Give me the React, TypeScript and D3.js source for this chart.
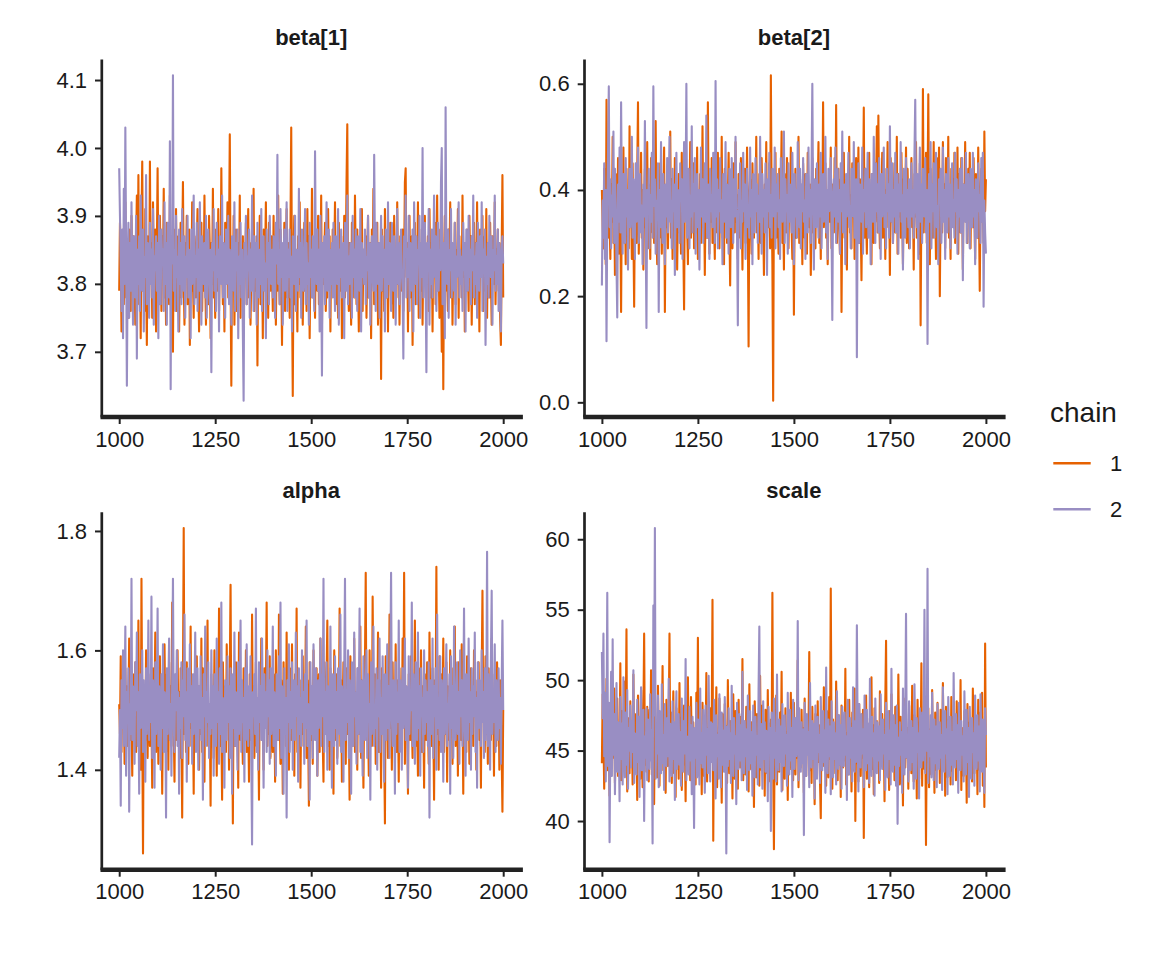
import { useEffect, useRef } from "react"
import * as d3 from "d3"

// post-warmup draws, read every 2nd iteration from 1000 to 2000
const iterStart = 1000
const iterEnd = 2000
const iterStep = 2

const beta1Chain1 = [
  3.79, 3.89, 3.84, 3.73, 3.81, 3.86, 3.77, 3.83, 3.92, 3.78, 3.85, 3.80, 3.75, 3.88, 3.82, 3.76, 3.90, 3.84, 3.79, 3.87,
  3.81, 3.74, 3.86, 3.93, 3.80, 3.96, 3.77, 3.84, 3.72, 3.89, 3.98, 3.79, 3.85, 3.76, 3.91, 3.82, 3.71, 3.87, 3.83, 3.78,
  3.98, 3.80, 3.86, 3.75, 3.92, 3.84, 3.79, 3.88, 3.73, 3.85, 3.97, 3.81, 3.77, 3.90, 3.83, 3.76, 3.87, 3.82, 3.94, 3.78,
  3.84, 3.74, 3.89, 3.81, 3.86, 3.77, 3.93, 3.80, 3.85, 3.72, 3.70, 3.88, 3.83, 3.79, 3.91, 3.76, 3.84, 3.87, 3.73, 3.82,
  3.89, 3.78, 3.85, 3.95, 3.80, 3.74, 3.86, 3.82, 3.90, 3.77, 3.83, 3.88, 3.71, 3.84, 3.79, 3.92, 3.81, 3.75, 3.87, 3.83,
  3.78, 3.86, 3.91, 3.80, 3.73, 3.85, 3.82, 3.89, 3.76, 3.84, 3.79, 3.93, 3.81, 3.74, 3.87, 3.83, 3.77, 3.90, 3.85, 3.72,
  3.86, 3.80, 3.94, 3.78, 3.84, 3.75, 3.88, 3.82, 3.79, 3.91, 3.76, 3.85, 3.81, 3.97, 3.83, 3.77, 3.86, 3.73, 3.89, 3.80,
  3.84, 3.92, 3.78, 3.87, 4.02, 3.81, 3.65, 3.85, 3.79, 3.90, 3.74, 3.83, 3.88, 3.76, 3.82, 3.86, 3.80, 3.93, 3.75, 3.84,
  3.79, 3.87, 3.73, 3.85, 3.81, 3.89, 3.77, 3.83, 3.91, 3.78, 3.86, 3.74, 3.82, 3.88, 3.80, 3.94, 3.76, 3.84, 3.79, 3.87,
  3.68, 3.85, 3.81, 3.90, 3.77, 3.83, 3.86, 3.72, 3.88, 3.80, 3.84, 3.92, 3.78, 3.85, 3.75, 3.89, 3.82, 3.79, 3.87, 3.83,
  3.76, 3.90, 3.81, 3.86, 3.74, 3.84, 3.79, 3.93, 3.82, 3.77, 3.88, 3.83, 3.71, 3.85, 3.80, 3.89, 3.76, 3.84, 3.91, 3.78,
  3.86, 3.81, 3.75, 3.88, 4.03, 3.79, 3.635, 3.84, 3.90, 3.77, 3.85, 3.82, 3.73, 3.87, 3.80, 3.92, 3.78, 3.84, 3.86, 3.74,
  3.83, 3.89, 3.79, 3.85, 3.76, 3.91, 3.81, 3.87, 3.72, 3.84, 3.80, 3.94, 3.78, 3.86, 3.82, 3.75, 3.88, 3.83, 3.79, 3.90,
  3.77, 3.85, 3.81, 3.93, 3.74, 3.86, 3.80, 3.84, 3.89, 3.76, 3.83, 3.78, 3.91, 3.82, 3.87, 3.73, 3.85, 3.80, 3.88, 3.79,
  3.84, 3.92, 3.77, 3.86, 3.81, 3.75, 3.89, 3.83, 3.79, 3.87, 3.72, 3.85, 3.82, 3.90, 3.78, 3.84, 3.95, 4.035, 3.80, 3.76,
  3.86, 3.82, 3.74, 3.89, 3.80, 3.85, 3.78, 3.93, 3.83, 3.77, 3.88, 3.81, 3.73, 3.86, 3.84, 3.79, 3.91, 3.76, 3.85, 3.82,
  3.80, 3.87, 3.75, 3.84, 3.90, 3.78, 3.83, 3.86, 3.72, 3.88, 3.81, 3.94, 3.77, 3.85, 3.79, 3.82, 3.89, 3.74, 3.86, 3.80,
  3.84, 3.66, 3.88, 3.79, 3.85, 3.76, 3.91, 3.82, 3.78, 3.87, 3.73, 3.84, 3.80, 3.89, 3.77, 3.86, 3.83, 3.75, 3.90, 3.81,
  3.85, 3.78, 3.92, 3.80, 3.84, 3.74, 3.87, 3.82, 3.79, 3.88, 3.76, 3.83, 3.95, 3.97, 3.81, 3.86, 3.73, 3.84, 3.90, 3.78,
  3.83, 3.87, 3.71, 3.85, 3.80, 3.89, 3.77, 3.84, 3.82, 3.92, 3.75, 3.86, 3.81, 3.79, 3.88, 3.74, 3.85, 3.83, 3.90, 3.78,
  3.84, 3.80, 3.87, 3.76, 3.91, 3.82, 3.78, 3.86, 3.73, 3.85, 3.81, 3.89, 3.77, 3.84, 3.93, 3.79, 3.83, 3.75, 3.88, 3.82,
  3.70, 3.86, 3.645, 3.84, 3.90, 3.79, 3.85, 3.81, 3.76, 3.88, 3.83, 3.92, 3.78, 3.86, 3.74, 3.84, 3.80, 3.89, 3.77, 3.85,
  3.82, 3.91, 3.75, 3.87, 3.80, 3.84, 3.78, 3.93, 3.81, 3.86, 3.73, 3.85, 3.79, 3.88, 3.83, 3.76, 3.90, 3.82, 3.87, 3.74,
  3.84, 3.80, 3.89, 3.77, 3.86, 3.82, 3.92, 3.78, 3.85, 3.73, 3.88, 3.81, 3.84, 3.90, 3.76, 3.83, 3.87, 3.79, 3.91, 3.75,
  3.86, 3.82, 3.78, 3.89, 3.81, 3.74, 3.87, 3.84, 3.80, 3.92, 3.77, 3.85, 3.83, 3.88, 3.79, 3.86, 3.75, 3.71, 3.85, 3.96, 3.78,
]

const beta1Chain2 = [
  3.97, 3.90, 3.83, 3.76, 3.88, 3.72, 3.94, 3.80, 4.03, 3.85, 3.65, 3.82, 3.89, 3.75, 3.86, 3.79, 3.92, 3.81, 3.74, 3.87,
  3.83, 3.78, 3.90, 3.69, 3.85, 3.80, 3.87, 3.76, 3.93, 3.82, 3.79, 3.88, 3.73, 3.84, 3.81, 3.96, 3.77, 3.86, 3.83, 3.75,
  3.89, 3.80, 3.85, 3.78, 3.91, 3.74, 3.84, 3.82, 3.87, 3.79, 3.86, 3.72, 3.90, 3.81, 3.77, 3.88, 3.83, 3.85, 3.76, 3.92,
  3.80, 3.86, 3.74, 3.89, 3.82, 3.78, 4.01, 3.645, 3.87, 3.83, 4.107, 3.79, 3.85, 3.76, 3.90, 3.81, 3.84, 3.73, 3.88, 3.80,
  3.86, 3.77, 3.91, 3.82, 3.79, 3.87, 3.75, 3.84, 3.81, 3.90, 3.78, 3.85, 3.83, 3.72, 3.88, 3.80, 3.86, 3.93, 3.77, 3.84,
  3.81, 3.89, 3.76, 3.85, 3.79, 3.92, 3.82, 3.74, 3.87, 3.83, 3.80, 3.86, 3.78, 3.90, 3.75, 3.84, 3.88, 3.81, 3.77, 3.85,
  3.67, 3.86, 3.82, 3.91, 3.79, 3.84, 3.76, 3.89, 3.81, 3.85, 3.73, 3.87, 3.83, 3.80, 3.93, 3.78, 3.86, 3.82, 3.75, 3.88,
  3.80, 3.84, 3.90, 3.77, 3.85, 3.81, 3.74, 3.87, 3.83, 3.79, 3.92, 3.76, 3.86, 3.82, 3.88, 3.72, 3.84, 3.80, 3.89, 3.78,
  3.85, 3.73, 3.628, 3.86, 3.81, 3.90, 3.77, 3.84, 3.82, 3.88, 3.75, 3.85, 3.79, 3.93, 3.83, 3.76, 3.87, 3.81, 3.86, 3.74,
  3.89, 3.82, 3.78, 3.85, 3.80, 3.91, 3.76, 3.84, 3.87, 3.79, 3.83, 3.72, 3.88, 3.81, 3.86, 3.77, 3.90, 3.84, 3.80, 3.85,
  3.78, 3.87, 3.82, 3.75, 3.89, 3.83, 3.99, 3.80, 3.85, 3.77, 3.91, 3.81, 3.86, 3.74, 3.84, 3.88, 3.79, 3.83, 3.92, 3.76,
  3.85, 3.81, 3.88, 3.78, 3.84, 3.73, 3.87, 3.82, 3.80, 3.90, 3.76, 3.85, 3.83, 3.79, 3.94, 3.81, 3.86, 3.75, 3.88, 3.82,
  3.79, 3.84, 3.91, 3.77, 3.86, 3.80, 3.83, 3.74, 3.89, 3.81, 3.85, 3.78, 3.87, 3.82, 3.76, 3.995, 3.84, 3.80, 3.88, 3.79,
  3.85, 3.73, 3.90, 3.82, 3.665, 3.86, 3.81, 3.87, 3.77, 3.84, 3.92, 3.79, 3.83, 3.88, 3.75, 3.85, 3.80, 3.86, 3.78, 3.89,
  3.82, 3.76, 3.87, 3.83, 3.80, 3.91, 3.74, 3.85, 3.81, 3.88, 3.78, 3.84, 3.86, 3.72, 3.89, 3.82, 3.79, 3.93, 3.77, 3.84,
  3.80, 3.86, 3.83, 3.75, 3.90, 3.81, 3.85, 3.78, 3.88, 3.82, 3.76, 3.87, 3.84, 3.79, 3.91, 3.73, 3.86, 3.81, 3.85, 3.80,
  3.88, 3.77, 3.84, 3.82, 3.90, 3.78, 3.86, 3.74, 3.83, 3.87, 3.81, 3.79, 3.99, 3.85, 3.76, 3.89, 3.82, 3.80, 3.86, 3.75,
  3.84, 3.90, 3.79, 3.87, 3.81, 3.85, 3.73, 3.88, 3.83, 3.78, 3.92, 3.80, 3.86, 3.82, 3.76, 3.89, 3.84, 3.79, 3.87, 3.81,
  3.74, 3.85, 3.91, 3.80, 3.86, 3.77, 3.83, 3.88, 3.82, 3.79, 3.69, 3.87, 3.84, 3.93, 3.78, 3.85, 3.81, 3.90, 3.76, 3.86,
  3.82, 3.79, 3.88, 3.73, 3.92, 3.84, 3.80, 3.87, 3.77, 3.85, 3.83, 3.90, 3.75, 3.86, 3.81, 4.00, 3.78, 3.84, 3.89, 3.80,
  3.67, 3.86, 3.82, 3.91, 3.74, 3.85, 3.80, 3.88, 3.78, 3.84, 3.93, 3.81, 3.87, 3.76, 3.83, 3.89, 3.79, 3.85, 3.82, 3.95,
  4.00, 3.77, 3.86, 3.81, 3.72, 4.06, 3.84, 3.80, 3.88, 3.75, 3.85, 3.82, 3.91, 3.78, 3.86, 3.83, 3.79, 3.89, 3.74, 3.84,
  3.81, 3.87, 3.92, 3.78, 3.85, 3.80, 3.84, 3.76, 3.89, 3.82, 3.86, 3.73, 3.88, 3.83, 3.79, 3.90, 3.81, 3.85, 3.77, 3.87,
  3.82, 3.93, 3.78, 3.84, 3.80, 3.86, 3.75, 3.89, 3.83, 3.79, 3.87, 3.81, 3.92, 3.76, 3.85, 3.82, 3.88, 3.71, 3.84, 3.80,
  3.86, 3.78, 3.90, 3.83, 3.81, 3.87, 3.74, 3.85, 3.82, 3.93, 3.79, 3.84, 3.80, 3.88, 3.76, 3.86, 3.82, 3.73, 3.85, 3.87, 3.83,
]

const beta2Chain1 = [
  0.40, 0.33, 0.29, 0.44, 0.36, 0.26, 0.57, 0.38, 0.31, 0.47, 0.35, 0.27, 0.41, 0.34, 0.50, 0.30, 0.38, 0.24, 0.43, 0.36,
  0.32, 0.46, 0.28, 0.39, 0.35, 0.17, 0.42, 0.33, 0.48, 0.30, 0.37, 0.26, 0.44, 0.35, 0.40, 0.29, 0.52, 0.34, 0.38, 0.27,
  0.45, 0.32, 0.18, 0.39, 0.36, 0.30, 0.43, 0.565, 0.28, 0.37, 0.34, 0.47, 0.31, 0.40, 0.25, 0.38, 0.44, 0.33, 0.36, 0.49,
  0.29, 0.41, 0.35, 0.27, 0.46, 0.37, 0.32, 0.43, 0.30, 0.39, 0.53, 0.34, 0.26, 0.42, 0.36, 0.31, 0.45, 0.38, 0.28, 0.40,
  0.35, 0.48, 0.17, 0.37, 0.33, 0.44, 0.29, 0.39, 0.36, 0.51, 0.31, 0.42, 0.27, 0.38, 0.34, 0.46, 0.30, 0.40, 0.25, 0.37,
  0.43, 0.32, 0.39, 0.28, 0.47, 0.35, 0.30, 0.175, 0.41, 0.36, 0.44, 0.33, 0.26, 0.40, 0.37, 0.49, 0.31, 0.38, 0.34, 0.45,
  0.29, 0.42, 0.36, 0.32, 0.48, 0.27, 0.39, 0.35, 0.43, 0.30, 0.37, 0.52, 0.33, 0.40, 0.24, 0.38, 0.45, 0.31, 0.565, 0.36,
  0.28, 0.41, 0.34, 0.46, 0.30, 0.38, 0.35, 0.27, 0.43, 0.39, 0.32, 0.47, 0.36, 0.29, 0.42, 0.34, 0.50, 0.31, 0.37, 0.26,
  0.44, 0.35, 0.40, 0.30, 0.38, 0.47, 0.33, 0.22, 0.41, 0.36, 0.29, 0.45, 0.37, 0.32, 0.49, 0.34, 0.39, 0.27, 0.43, 0.35,
  0.31, 0.46, 0.38, 0.25, 0.40, 0.34, 0.44, 0.30, 0.37, 0.48, 0.33, 0.105, 0.39, 0.42, 0.35, 0.28, 0.45, 0.36, 0.31, 0.41,
  0.37, 0.50, 0.32, 0.39, 0.27, 0.43, 0.35, 0.30, 0.46, 0.38, 0.34, 0.24, 0.41, 0.36, 0.49, 0.31, 0.40, 0.33, 0.45, 0.29,
  0.616, 0.38, 0.26, 0.003, 0.42, 0.35, 0.47, 0.31, 0.39, 0.36, 0.28, 0.44, 0.34, 0.40, 0.51, 0.30, 0.37, 0.25, 0.43, 0.35,
  0.32, 0.46, 0.38, 0.29, 0.41, 0.36, 0.48, 0.33, 0.27, 0.40, 0.165, 0.37, 0.44, 0.31, 0.39, 0.35, 0.50, 0.30, 0.42, 0.34,
  0.38, 0.26, 0.45, 0.36, 0.31, 0.43, 0.39, 0.28, 0.47, 0.35, 0.33, 0.41, 0.24, 0.37, 0.46, 0.32, 0.40, 0.36, 0.29, 0.44,
  0.34, 0.39, 0.49, 0.30, 0.37, 0.27, 0.42, 0.35, 0.565, 0.33, 0.38, 0.45, 0.31, 0.40, 0.26, 0.36, 0.43, 0.34, 0.48, 0.29,
  0.41, 0.37, 0.32, 0.46, 0.35, 0.56, 0.30, 0.39, 0.44, 0.33, 0.28, 0.42, 0.17, 0.38, 0.36, 0.47, 0.31, 0.40, 0.34, 0.25,
  0.43, 0.37, 0.50, 0.32, 0.39, 0.29, 0.45, 0.35, 0.41, 0.27, 0.38, 0.46, 0.33, 0.36, 0.48, 0.30, 0.42, 0.34, 0.23, 0.40,
  0.37, 0.555, 0.31, 0.44, 0.35, 0.28, 0.41, 0.38, 0.47, 0.33, 0.36, 0.26, 0.43, 0.39, 0.30, 0.45, 0.34, 0.40, 0.52, 0.32,
  0.54, 0.36, 0.29, 0.42, 0.38, 0.47, 0.31, 0.35, 0.44, 0.27, 0.40, 0.37, 0.49, 0.33, 0.39, 0.24, 0.46, 0.34, 0.41, 0.30,
  0.38, 0.45, 0.32, 0.36, 0.50, 0.28, 0.43, 0.35, 0.40, 0.31, 0.47, 0.37, 0.26, 0.42, 0.34, 0.39, 0.48, 0.30, 0.44, 0.36,
  0.29, 0.41, 0.37, 0.46, 0.33, 0.39, 0.25, 0.43, 0.35, 0.49, 0.31, 0.40, 0.36, 0.28, 0.45, 0.145, 0.38, 0.34, 0.59, 0.32,
  0.42, 0.37, 0.47, 0.30, 0.39, 0.58, 0.35, 0.26, 0.44, 0.36, 0.41, 0.31, 0.49, 0.34, 0.38, 0.27, 0.46, 0.33, 0.40, 0.48,
  0.20, 0.37, 0.43, 0.32, 0.49, 0.35, 0.41, 0.29, 0.46, 0.38, 0.34, 0.50, 0.31, 0.39, 0.27, 0.44, 0.36, 0.42, 0.33, 0.47,
  0.30, 0.40, 0.35, 0.48, 0.28, 0.43, 0.37, 0.32, 0.46, 0.39, 0.25, 0.41, 0.36, 0.49, 0.34, 0.38, 0.30, 0.44, 0.35, 0.47,
  0.29, 0.42, 0.38, 0.33, 0.46, 0.36, 0.27, 0.43, 0.40, 0.31, 0.48, 0.35, 0.21, 0.39, 0.44, 0.34, 0.37, 0.30, 0.51, 0.36, 0.42,
]

const beta2Chain2 = [
  0.22, 0.38, 0.31, 0.45, 0.27, 0.40, 0.115, 0.36, 0.47, 0.595, 0.33, 0.42, 0.29, 0.39, 0.35, 0.51, 0.30, 0.44, 0.37, 0.26,
  0.16, 0.41, 0.34, 0.48, 0.32, 0.565, 0.38, 0.28, 0.43, 0.36, 0.30, 0.46, 0.35, 0.40, 0.25, 0.39, 0.44, 0.33, 0.37, 0.50,
  0.31, 0.42, 0.36, 0.27, 0.45, 0.34, 0.39, 0.48, 0.30, 0.38, 0.43, 0.32, 0.37, 0.26, 0.41, 0.35, 0.53, 0.33, 0.14, 0.40,
  0.36, 0.44, 0.29, 0.39, 0.34, 0.47, 0.31, 0.595, 0.37, 0.42, 0.28, 0.38, 0.35, 0.45, 0.17, 0.40, 0.33, 0.49, 0.36, 0.30,
  0.43, 0.37, 0.26, 0.41, 0.35, 0.46, 0.32, 0.39, 0.50, 0.34, 0.38, 0.29, 0.44, 0.36, 0.41, 0.24, 0.37, 0.47, 0.33, 0.40,
  0.35, 0.30, 0.45, 0.38, 0.42, 0.27, 0.36, 0.49, 0.34, 0.40, 0.60, 0.31, 0.37, 0.44, 0.29, 0.39, 0.35, 0.52, 0.32, 0.41,
  0.36, 0.46, 0.28, 0.38, 0.43, 0.33, 0.40, 0.25, 0.37, 0.48, 0.35, 0.42, 0.30, 0.39, 0.45, 0.34, 0.54, 0.31, 0.37, 0.41,
  0.27, 0.44, 0.36, 0.39, 0.33, 0.47, 0.38, 0.30, 0.605, 0.35, 0.42, 0.29, 0.40, 0.36, 0.46, 0.32, 0.38, 0.26, 0.43, 0.37,
  0.34, 0.49, 0.31, 0.41, 0.36, 0.28, 0.44, 0.38, 0.33, 0.46, 0.39, 0.30, 0.42, 0.35, 0.50, 0.37, 0.32, 0.145, 0.40, 0.36,
  0.45, 0.29, 0.38, 0.34, 0.47, 0.36, 0.41, 0.27, 0.39, 0.44, 0.33, 0.37, 0.31, 0.48, 0.35, 0.40, 0.26, 0.43, 0.38, 0.32,
  0.46, 0.36, 0.41, 0.30, 0.39, 0.34, 0.50, 0.37, 0.28, 0.43, 0.35, 0.40, 0.32, 0.45, 0.38, 0.24, 0.42, 0.36, 0.47, 0.33,
  0.39, 0.31, 0.44, 0.37, 0.35, 0.48, 0.29, 0.41, 0.36, 0.43, 0.33, 0.38, 0.27, 0.46, 0.40, 0.34, 0.37, 0.51, 0.30, 0.42,
  0.36, 0.39, 0.28, 0.45, 0.34, 0.41, 0.37, 0.32, 0.47, 0.38, 0.26, 0.43, 0.35, 0.40, 0.31, 0.49, 0.37, 0.33, 0.44, 0.29,
  0.41, 0.36, 0.46, 0.34, 0.38, 0.27, 0.43, 0.39, 0.32, 0.48, 0.35, 0.40, 0.30, 0.44, 0.60, 0.37, 0.25, 0.42, 0.36, 0.33,
  0.45, 0.38, 0.31, 0.41, 0.35, 0.47, 0.29, 0.39, 0.43, 0.34, 0.37, 0.50, 0.32, 0.40, 0.27, 0.44, 0.36, 0.38, 0.46, 0.33,
  0.155, 0.39, 0.42, 0.35, 0.48, 0.30, 0.37, 0.44, 0.34, 0.40, 0.28, 0.45, 0.36, 0.51, 0.32, 0.38, 0.41, 0.26, 0.43, 0.35,
  0.39, 0.47, 0.33, 0.37, 0.29, 0.44, 0.40, 0.35, 0.49, 0.31, 0.38, 0.42, 0.085, 0.36, 0.45, 0.30, 0.41, 0.37, 0.34, 0.48,
  0.28, 0.40, 0.36, 0.44, 0.33, 0.38, 0.47, 0.31, 0.42, 0.35, 0.26, 0.43, 0.39, 0.34, 0.50, 0.37, 0.30, 0.45, 0.36, 0.41,
  0.32, 0.46, 0.38, 0.27, 0.43, 0.35, 0.40, 0.48, 0.33, 0.39, 0.29, 0.44, 0.36, 0.41, 0.31, 0.52, 0.37, 0.34, 0.45, 0.30,
  0.40, 0.35, 0.47, 0.32, 0.38, 0.43, 0.28, 0.41, 0.36, 0.49, 0.34, 0.39, 0.25, 0.44, 0.37, 0.31, 0.46, 0.35, 0.40, 0.33,
  0.42, 0.29, 0.38, 0.45, 0.35, 0.40, 0.31, 0.47, 0.57, 0.36, 0.33, 0.43, 0.27, 0.39, 0.48, 0.34, 0.41, 0.30, 0.44, 0.37,
  0.35, 0.46, 0.32, 0.40, 0.11, 0.38, 0.43, 0.34, 0.49, 0.29, 0.41, 0.36, 0.45, 0.31, 0.39, 0.47, 0.33, 0.37, 0.26, 0.42,
  0.38, 0.44, 0.30, 0.36, 0.48, 0.34, 0.40, 0.27, 0.43, 0.37, 0.32, 0.46, 0.35, 0.41, 0.29, 0.39, 0.45, 0.33, 0.38, 0.31,
  0.47, 0.36, 0.42, 0.28, 0.40, 0.35, 0.44, 0.32, 0.38, 0.46, 0.23, 0.41, 0.37, 0.34, 0.47, 0.30, 0.39, 0.43, 0.36, 0.29,
  0.44, 0.38, 0.33, 0.47, 0.35, 0.40, 0.26, 0.42, 0.37, 0.31, 0.45, 0.36, 0.39, 0.30, 0.46, 0.34, 0.47, 0.18, 0.38, 0.32, 0.28,
]

const alphaChain1 = [
  1.51, 1.46, 1.59, 1.43, 1.55, 1.49, 1.52, 1.41, 1.57, 1.47, 1.54, 1.44, 1.50, 1.62, 1.45, 1.53, 1.48, 1.39, 1.56, 1.51,
  1.46, 1.58, 1.43, 1.52, 1.49, 1.65, 1.44, 1.55, 1.40, 1.72, 1.47, 1.26, 1.53, 1.50, 1.45, 1.60, 1.48, 1.42, 1.56, 1.51,
  1.44, 1.54, 1.49, 1.37, 1.57, 1.46, 1.52, 1.63, 1.43, 1.50, 1.55, 1.41, 1.48, 1.59, 1.45, 1.53, 1.36, 1.51, 1.47, 1.61,
  1.49, 1.43, 1.56, 1.52, 1.40, 1.58, 1.46, 1.54, 1.44, 1.68, 1.50, 1.47, 1.38, 1.55, 1.51, 1.45, 1.60, 1.48, 1.53, 1.42,
  1.57, 1.49, 1.32, 1.54, 1.805, 1.46, 1.52, 1.43, 1.58, 1.50, 1.41, 1.55, 1.47, 1.64, 1.44, 1.53, 1.49, 1.36, 1.56, 1.51,
  1.45, 1.59, 1.48, 1.54, 1.40, 1.52, 1.46, 1.62, 1.43, 1.57, 1.50, 1.38, 1.55, 1.47, 1.53, 1.65, 1.44, 1.51, 1.49, 1.34,
  1.56, 1.48, 1.53, 1.42, 1.60, 1.46, 1.51, 1.39, 1.55, 1.49, 1.67, 1.44, 1.52, 1.47, 1.35, 1.58, 1.50, 1.45, 1.54, 1.43,
  1.61, 1.48, 1.53, 1.40, 1.56, 1.71, 1.46, 1.51, 1.31, 1.55, 1.49, 1.44, 1.58, 1.47, 1.52, 1.37, 1.63, 1.50, 1.45, 1.54,
  1.48, 1.41, 1.57, 1.52, 1.46, 1.60, 1.43, 1.53, 1.49, 1.38, 1.56, 1.51, 1.45, 1.66, 1.47, 1.54, 1.42, 1.50, 1.58, 1.44,
  1.52, 1.47, 1.35, 1.55, 1.49, 1.62, 1.45, 1.51, 1.40, 1.57, 1.48, 1.53, 1.68, 1.44, 1.50, 1.46, 1.59, 1.42, 1.54, 1.49,
  1.43, 1.56, 1.51, 1.38, 1.60, 1.47, 1.53, 1.45, 1.66, 1.49, 1.41, 1.55, 1.50, 1.36, 1.58, 1.46, 1.52, 1.44, 1.63, 1.48,
  1.54, 1.40, 1.57, 1.50, 1.45, 1.61, 1.47, 1.53, 1.39, 1.56, 1.49, 1.67, 1.43, 1.52, 1.48, 1.55, 1.37, 1.51, 1.46, 1.59,
  1.44, 1.53, 1.49, 1.64, 1.42, 1.55, 1.47, 1.34, 1.58, 1.50, 1.45, 1.54, 1.41, 1.60, 1.48, 1.52, 1.46, 1.57, 1.39, 1.51,
  1.56, 1.43, 1.62, 1.49, 1.53, 1.45, 1.38, 1.58, 1.50, 1.47, 1.55, 1.65, 1.44, 1.52, 1.40, 1.57, 1.48, 1.54, 1.46, 1.36,
  1.60, 1.51, 1.45, 1.56, 1.42, 1.53, 1.49, 1.67, 1.44, 1.55, 1.38, 1.50, 1.58, 1.47, 1.52, 1.41, 1.57, 1.46, 1.54, 1.48,
  1.35, 1.59, 1.50, 1.44, 1.56, 1.47, 1.62, 1.43, 1.53, 1.49, 1.40, 1.57, 1.51, 1.46, 1.64, 1.42, 1.55, 1.48, 1.37, 1.52,
  1.58, 1.73, 1.45, 1.54, 1.49, 1.39, 1.60, 1.47, 1.53, 1.44, 1.69, 1.51, 1.46, 1.56, 1.41, 1.52, 1.48, 1.63, 1.43, 1.55,
  1.50, 1.37, 1.57, 1.46, 1.53, 1.44, 1.31, 1.59, 1.49, 1.55, 1.42, 1.51, 1.66, 1.47, 1.54, 1.40, 1.58, 1.45, 1.52, 1.48,
  1.61, 1.43, 1.55, 1.50, 1.38, 1.57, 1.46, 1.53, 1.44, 1.62, 1.49, 1.73, 1.41, 1.54, 1.47, 1.52, 1.36, 1.56, 1.50, 1.45,
  1.59, 1.48, 1.42, 1.55, 1.51, 1.65, 1.44, 1.53, 1.47, 1.39, 1.57, 1.50, 1.46, 1.60, 1.43, 1.54, 1.49, 1.37, 1.56, 1.52,
  1.45, 1.58, 1.48, 1.41, 1.63, 1.50, 1.54, 1.44, 1.57, 1.47, 1.35, 1.55, 1.51, 1.74, 1.46, 1.53, 1.40, 1.59, 1.49, 1.44,
  1.56, 1.48, 1.62, 1.43, 1.52, 1.46, 1.58, 1.38, 1.54, 1.50, 1.45, 1.60, 1.47, 1.53, 1.41, 1.57, 1.49, 1.64, 1.44, 1.51,
  1.55, 1.39, 1.58, 1.47, 1.52, 1.45, 1.61, 1.50, 1.36, 1.56, 1.48, 1.53, 1.43, 1.59, 1.46, 1.54, 1.41, 1.50, 1.57, 1.47,
  1.52, 1.44, 1.60, 1.49, 1.55, 1.40, 1.53, 1.47, 1.58, 1.45, 1.51, 1.37, 1.56, 1.70, 1.48, 1.54, 1.43, 1.59, 1.46, 1.52,
  1.41, 1.57, 1.49, 1.54, 1.45, 1.62, 1.47, 1.52, 1.39, 1.56, 1.50, 1.44, 1.58, 1.46, 1.53, 1.40, 1.55, 1.48, 1.43, 1.33, 1.50,
]

const alphaChain2 = [
  1.42, 1.50, 1.34, 1.55, 1.47, 1.60, 1.44, 1.52, 1.64, 1.39, 1.53, 1.48, 1.57, 1.33, 1.51, 1.46, 1.72, 1.45, 1.54, 1.49,
  1.41, 1.58, 1.50, 1.63, 1.44, 1.53, 1.36, 1.56, 1.47, 1.52, 1.60, 1.43, 1.55, 1.49, 1.38, 1.57, 1.46, 1.51, 1.65, 1.45,
  1.53, 1.48, 1.69, 1.42, 1.55, 1.50, 1.37, 1.58, 1.46, 1.52, 1.67, 1.44, 1.54, 1.49, 1.40, 1.56, 1.47, 1.61, 1.43, 1.53,
  1.50, 1.32, 1.57, 1.46, 1.54, 1.62, 1.45, 1.51, 1.39, 1.55, 1.72, 1.48, 1.43, 1.56, 1.50, 1.60, 1.44, 1.53, 1.36, 1.52,
  1.47, 1.58, 1.42, 1.55, 1.49, 1.66, 1.45, 1.53, 1.38, 1.57, 1.51, 1.44, 1.61, 1.48, 1.54, 1.41, 1.56, 1.46, 1.52, 1.63,
  1.43, 1.50, 1.57, 1.40, 1.54, 1.47, 1.59, 1.45, 1.52, 1.35, 1.56, 1.49, 1.64, 1.44, 1.53, 1.48, 1.58, 1.42, 1.51, 1.46,
  1.60, 1.47, 1.54, 1.39, 1.56, 1.50, 1.44, 1.62, 1.48, 1.53, 1.41, 1.57, 1.46, 1.68, 1.43, 1.52, 1.49, 1.37, 1.55, 1.50,
  1.45, 1.59, 1.48, 1.54, 1.42, 1.57, 1.51, 1.36, 1.56, 1.47, 1.63, 1.44, 1.53, 1.49, 1.40, 1.58, 1.46, 1.52, 1.65, 1.43,
  1.55, 1.48, 1.52, 1.38, 1.57, 1.45, 1.61, 1.50, 1.44, 1.54, 1.47, 1.59, 1.42, 1.275, 1.53, 1.49, 1.56, 1.46, 1.67, 1.43,
  1.52, 1.40, 1.58, 1.48, 1.54, 1.45, 1.62, 1.50, 1.37, 1.56, 1.47, 1.53, 1.43, 1.60, 1.49, 1.55, 1.41, 1.57, 1.46, 1.51,
  1.64, 1.44, 1.53, 1.48, 1.39, 1.56, 1.50, 1.45, 1.59, 1.47, 1.68, 1.42, 1.54, 1.49, 1.36, 1.57, 1.46, 1.52, 1.32, 1.55,
  1.48, 1.61, 1.43, 1.53, 1.47, 1.58, 1.40, 1.55, 1.50, 1.45, 1.63, 1.49, 1.54, 1.38, 1.57, 1.46, 1.52, 1.44, 1.60, 1.48,
  1.53, 1.41, 1.56, 1.47, 1.65, 1.44, 1.51, 1.49, 1.35, 1.58, 1.46, 1.54, 1.42, 1.61, 1.50, 1.45, 1.57, 1.48, 1.39, 1.55,
  1.47, 1.52, 1.62, 1.44, 1.56, 1.49, 1.72, 1.43, 1.53, 1.46, 1.58, 1.40, 1.54, 1.50, 1.45, 1.64, 1.48, 1.37, 1.56, 1.51,
  1.44, 1.59, 1.47, 1.53, 1.41, 1.57, 1.50, 1.46, 1.66, 1.43, 1.54, 1.49, 1.38, 1.56, 1.72, 1.45, 1.52, 1.48, 1.60, 1.42,
  1.55, 1.47, 1.36, 1.58, 1.50, 1.44, 1.63, 1.49, 1.53, 1.41, 1.57, 1.46, 1.52, 1.67, 1.43, 1.55, 1.48, 1.39, 1.59, 1.50,
  1.45, 1.54, 1.60, 1.42, 1.56, 1.48, 1.51, 1.35, 1.58, 1.46, 1.53, 1.64, 1.44, 1.50, 1.47, 1.57, 1.40, 1.55, 1.49, 1.62,
  1.43, 1.52, 1.46, 1.59, 1.48, 1.38, 1.56, 1.50, 1.45, 1.61, 1.47, 1.54, 1.42, 1.57, 1.73, 1.49, 1.44, 1.55, 1.51, 1.36,
  1.58, 1.46, 1.53, 1.48, 1.65, 1.43, 1.55, 1.50, 1.40, 1.57, 1.47, 1.52, 1.62, 1.45, 1.54, 1.49, 1.37, 1.59, 1.46, 1.53,
  1.50, 1.68, 1.44, 1.56, 1.48, 1.41, 1.58, 1.51, 1.45, 1.63, 1.47, 1.54, 1.39, 1.57, 1.49, 1.52, 1.43, 1.60, 1.46, 1.55,
  1.48, 1.53, 1.44, 1.58, 1.32, 1.55, 1.50, 1.46, 1.62, 1.42, 1.54, 1.49, 1.57, 1.40, 1.66, 1.47, 1.52, 1.45, 1.59, 1.43,
  1.55, 1.50, 1.38, 1.57, 1.46, 1.53, 1.61, 1.44, 1.51, 1.48, 1.56, 1.36, 1.59, 1.47, 1.54, 1.42, 1.64, 1.49, 1.45, 1.52,
  1.58, 1.46, 1.53, 1.41, 1.60, 1.49, 1.55, 1.44, 1.51, 1.67, 1.47, 1.39, 1.56, 1.50, 1.45, 1.62, 1.48, 1.53, 1.40, 1.57,
  1.46, 1.54, 1.49, 1.63, 1.43, 1.52, 1.37, 1.58, 1.47, 1.55, 1.50, 1.44, 1.60, 1.48, 1.53, 1.42, 1.57, 1.45, 1.51, 1.765,
  1.44, 1.56, 1.49, 1.40, 1.58, 1.70, 1.46, 1.53, 1.48, 1.61, 1.43, 1.55, 1.50, 1.45, 1.57, 1.47, 1.52, 1.41, 1.54, 1.65, 1.50,
]

const scaleChain1 = [
  44.1, 49.0, 46.2, 42.3, 47.5, 44.8, 50.1, 43.6, 46.9, 45.2, 41.8, 48.3, 45.7, 43.9, 47.1, 44.5, 49.4, 42.7, 46.4, 45.0,
  48.7, 43.2, 46.0, 44.6, 51.2, 42.9, 47.8, 45.4, 43.7, 49.9, 44.2, 46.7, 53.6, 42.1, 47.3, 45.9, 43.4, 48.5, 44.9, 46.3,
  42.6, 50.4, 45.1, 47.6, 43.8, 46.1, 41.5, 48.9, 44.4, 46.8, 43.0, 49.3, 45.6, 42.4, 47.2, 53.3, 44.0, 46.5, 43.5, 48.1,
  45.3, 42.8, 47.9, 44.7, 50.7, 43.3, 46.6, 45.0, 41.2, 48.4, 44.3, 46.9, 43.1, 49.6, 45.8, 42.5, 47.4, 44.1, 46.2, 51.0,
  43.6, 47.0, 44.8, 42.0, 48.6, 45.5, 43.9, 46.7, 53.3, 44.2, 47.7, 42.7, 46.0, 49.2, 43.4, 45.9, 41.7, 48.0, 44.6, 46.4,
  43.0, 49.8, 45.2, 47.3, 42.2, 46.3, 44.0, 48.2, 45.7, 41.4, 47.5, 43.8, 50.2, 44.5, 46.8, 42.9, 48.8, 45.1, 43.3, 47.0,
  44.7, 46.5, 42.6, 49.1, 45.4, 53.0, 43.5, 47.8, 44.1, 46.1, 41.9, 48.4, 45.8, 43.2, 47.2, 44.9, 50.5, 42.8, 46.6, 45.3,
  43.7, 48.0, 44.4, 46.9, 55.7, 38.6, 47.4, 43.9, 45.6, 49.5, 42.4, 46.2, 44.8, 48.7, 43.1, 46.0, 41.3, 47.6, 45.0, 43.6,
  48.3, 44.6, 46.7, 42.7, 50.0, 45.3, 43.4, 47.1, 44.2, 46.4, 41.6, 49.0, 45.9, 43.0, 47.8, 44.5, 46.3, 42.3, 48.6, 45.1,
  43.8, 47.4, 44.9, 51.5, 42.9, 46.8, 45.4, 43.3, 48.1, 44.0, 46.6, 42.1, 49.7, 45.2, 43.7, 47.0, 44.7, 46.1, 41.0, 48.5,
  45.6, 43.1, 47.6, 44.3, 46.2, 42.5, 50.3, 45.0, 43.6, 48.2, 44.8, 46.5, 41.8, 47.9, 45.3, 43.4, 49.3, 44.1, 46.9, 42.8,
  47.2, 44.6, 56.2, 43.9, 38.0, 46.4, 44.2, 48.9, 42.6, 46.0, 45.1, 43.5, 47.7, 44.7, 50.6, 42.2, 46.7, 45.5, 43.0, 48.0,
  44.4, 46.3, 41.5, 47.5, 45.2, 43.7, 49.1, 44.0, 46.8, 42.9, 48.4, 45.7, 43.3, 47.0, 44.5, 51.4, 42.4, 46.1, 45.0, 43.8,
  47.9, 44.3, 46.6, 42.0, 48.7, 45.4, 43.2, 47.3, 44.8, 46.0, 52.0, 43.6, 45.9, 42.7, 48.1, 44.9, 46.5, 41.2, 47.6, 45.3,
  43.5, 48.5, 44.2, 46.8, 42.8, 40.2, 47.1, 45.0, 43.9, 49.5, 44.6, 46.3, 42.5, 47.8, 45.6, 43.1, 48.8, 44.4, 56.5, 45.8,
  42.3, 47.2, 44.7, 46.4, 43.4, 49.9, 45.1, 42.9, 47.5, 44.0, 46.7, 41.7, 48.2, 45.5, 43.8, 47.0, 44.3, 50.8, 42.6, 46.2,
  45.0, 43.3, 48.6, 44.8, 46.9, 42.1, 47.7, 45.3, 43.6, 49.4, 40.0, 46.6, 44.1, 47.4, 42.8, 48.3, 45.7, 43.2, 46.5, 44.5,
  47.9, 38.8, 46.0, 44.4, 48.9, 43.0, 46.3, 45.2, 42.4, 47.3, 44.9, 50.2, 43.7, 46.8, 41.9, 48.0, 45.4, 43.5, 47.1, 44.2,
  46.4, 42.7, 49.2, 45.0, 43.9, 47.6, 44.6, 46.1, 41.4, 48.4, 52.8, 43.3, 46.7, 45.3, 42.2, 47.8, 44.0, 49.0, 43.6, 46.2,
  45.7, 42.9, 48.1, 44.3, 46.9, 43.1, 50.4, 45.5, 42.6, 47.4, 44.8, 46.0, 41.1, 48.7, 45.2, 43.8, 47.2, 44.5, 46.6, 42.3,
  48.2, 44.1, 46.4, 43.4, 49.6, 45.0, 42.8, 47.5, 44.7, 46.3, 41.6, 48.6, 45.3, 43.0, 47.0, 44.4, 51.2, 42.5, 46.8, 45.6,
  43.7, 47.3, 38.3, 45.9, 44.2, 48.0, 42.4, 46.5, 45.1, 43.3, 49.3, 44.6, 46.1, 42.0, 47.7, 45.4, 43.6, 48.4, 44.9, 46.7,
  42.7, 47.9, 45.2, 43.9, 49.8, 44.3, 46.2, 41.8, 48.1, 45.6, 43.1, 47.2, 44.5, 46.9, 42.6, 48.8, 45.0, 43.5, 47.4, 44.8,
  46.0, 42.9, 48.5, 45.3, 43.8, 47.6, 44.1, 50.0, 42.2, 46.6, 45.4, 43.2, 47.8, 44.7, 46.3, 41.3, 48.3, 45.1, 43.7, 47.0,
  44.6, 46.8, 42.8, 49.4, 45.5, 43.4, 47.3, 44.0, 46.4, 41.9, 48.6, 45.2, 43.6, 47.7, 44.3, 49.1, 42.5, 46.9, 41.0, 52.6, 43.8,
]

const scaleChain2 = [
  52.0, 47.3, 53.3, 44.6, 49.1, 42.8, 46.5, 56.2, 43.9, 48.4, 38.5, 45.8, 50.6, 43.2, 52.9, 44.7, 47.6, 41.9, 46.3, 49.8,
  43.5, 47.0, 45.2, 41.4, 48.8, 44.4, 46.9, 42.6, 50.2, 45.6, 43.1, 47.7, 44.0, 49.3, 42.3, 46.6, 45.0, 48.2, 43.8, 47.1,
  44.9, 50.7, 42.7, 46.2, 45.4, 43.3, 48.6, 44.2, 47.4, 41.7, 46.8, 49.5, 43.6, 45.7, 47.9, 40.0, 46.0, 44.5, 48.0, 42.9,
  47.2, 45.1, 43.7, 49.0, 44.3, 46.4, 38.4, 55.3, 47.5, 60.8, 43.0, 46.7, 44.8, 48.9, 42.4, 47.8, 45.5, 43.4, 49.7, 44.1,
  46.1, 42.2, 48.3, 45.3, 43.9, 47.3, 44.6, 50.1, 42.8, 46.9, 45.0, 43.2, 48.5, 44.4, 47.0, 41.5, 46.5, 49.2, 43.7, 45.8,
  47.6, 44.0, 46.3, 42.5, 48.7, 45.2, 43.5, 47.1, 44.8, 51.5, 42.9, 46.0, 45.6, 43.3, 48.1, 44.3, 46.8, 41.9, 47.4, 45.0,
  39.5, 46.6, 44.5, 48.4, 43.1, 47.2, 45.4, 42.6, 49.4, 44.1, 46.2, 43.8, 47.9, 45.1, 42.0, 48.2, 44.7, 46.5, 43.4, 50.3,
  45.3, 42.8, 47.0, 44.2, 46.9, 43.6, 48.6, 45.0, 41.6, 47.5, 44.6, 46.1, 43.0, 49.0, 45.7, 42.4, 47.7, 44.0, 46.4, 43.5,
  48.8, 45.2, 37.7, 46.7, 43.9, 48.0, 44.4, 46.2, 42.7, 49.6, 45.5, 43.2, 47.3, 44.8, 46.0, 41.2, 48.4, 45.1, 43.7, 47.6,
  44.3, 46.8, 42.9, 50.6, 45.4, 43.4, 47.1, 44.6, 46.5, 42.2, 48.9, 45.0, 43.6, 47.8, 44.1, 46.3, 41.8, 48.2, 45.6, 43.1,
  47.4, 44.7, 46.0, 42.6, 49.3, 53.8, 43.8, 46.9, 45.2, 42.3, 48.5, 44.4, 47.0, 43.5, 46.4, 45.8, 41.4, 48.1, 44.9, 46.6,
  39.3, 47.7, 45.1, 43.0, 48.7, 44.5, 46.2, 42.8, 50.4, 45.3, 43.6, 47.2, 44.2, 46.7, 42.1, 48.3, 45.6, 43.9, 47.5, 44.8,
  46.1, 42.5, 49.1, 45.0, 43.3, 47.9, 44.3, 46.6, 41.7, 48.6, 45.4, 43.7, 47.3, 44.6, 46.0, 54.2, 42.9, 48.0, 45.2, 43.5,
  47.0, 44.1, 46.5, 39.0, 48.4, 45.7, 43.2, 47.6, 44.7, 46.3, 42.4, 49.8, 45.1, 43.8, 47.1, 44.4, 46.9, 41.6, 48.2, 45.5,
  43.0, 47.4, 44.9, 46.1, 42.7, 48.8, 45.3, 43.6, 47.8, 44.2, 46.4, 42.0, 50.9, 45.0, 43.4, 47.2, 44.6, 46.7, 41.9, 48.5,
  45.8, 43.1, 47.0, 44.4, 46.2, 42.6, 49.2, 45.5, 43.7, 47.5, 44.0, 46.8, 42.3, 48.1, 45.2, 43.9, 47.7, 44.7, 46.0, 41.5,
  48.6, 45.0, 43.3, 47.3, 44.5, 46.6, 42.8, 49.5, 45.6, 43.5, 47.1, 44.2, 53.9, 46.3, 42.1, 48.3, 45.3, 43.8, 47.6, 44.8,
  46.5, 42.4, 48.9, 45.1, 43.6, 47.9, 44.1, 46.9, 42.7, 50.1, 45.4, 43.2, 47.4, 44.6, 46.2, 41.8, 48.7, 45.7, 43.4, 47.0,
  44.3, 46.7, 42.9, 49.0, 45.2, 43.7, 47.2, 44.8, 46.1, 42.2, 48.4, 45.5, 43.1, 47.8, 44.4, 46.4, 42.6, 50.8, 45.0, 43.5,
  47.5, 44.0, 46.8, 42.5, 48.2, 39.8, 45.9, 43.9, 47.0, 44.7, 46.3, 42.0, 49.4, 45.3, 43.3, 47.6, 54.7, 44.5, 46.0, 42.8,
  48.5, 45.1, 43.6, 47.1, 44.2, 46.6, 42.3, 49.7, 45.6, 43.0, 47.3, 44.9, 46.2, 41.6, 48.0, 45.4, 43.8, 47.7, 44.3, 46.9,
  55.0, 43.4, 48.6, 45.0, 57.9, 42.7, 46.4, 44.6, 47.5, 43.1, 49.1, 45.7, 42.9, 47.2, 44.1, 46.7, 42.4, 48.3, 45.3, 43.7,
  47.0, 44.5, 46.1, 42.2, 49.5, 45.2, 43.5, 47.8, 44.8, 46.5, 41.9, 48.8, 45.5, 43.2, 47.4, 44.0, 46.3, 42.6, 50.5, 45.0,
  43.8, 47.6, 44.4, 46.8, 42.0, 48.4, 45.3, 43.6, 47.1, 44.7, 46.0, 42.8, 49.2, 45.6, 43.3, 47.9, 44.2, 46.6, 41.7, 48.1,
  45.1, 43.0, 47.3, 44.9, 46.2, 42.5, 48.9, 45.4, 43.7, 47.5, 44.3, 46.7, 42.1, 49.0, 45.8, 43.5, 47.2, 44.6, 42.0, 48.0, 46.1,
]

const xTicks = [1000, 1250, 1500, 1750, 2000]
const beta1Ticks = [3.7, 3.8, 3.9, 4.0, 4.1]
const beta2Ticks = [0.0, 0.2, 0.4, 0.6]
const alphaTicks = [1.4, 1.6, 1.8]
const scaleTicks = [40, 45, 50, 55, 60]

const chainLabels = ["1", "2"]
const chainColors = ["#e66101", "#998ec3"]

const panels = [
  { title: "beta[1]", chains: [beta1Chain1, beta1Chain2], ticks: beta1Ticks, fmt: ".1f" },
  { title: "beta[2]", chains: [beta2Chain1, beta2Chain2], ticks: beta2Ticks, fmt: ".1f" },
  { title: "alpha", chains: [alphaChain1, alphaChain2], ticks: alphaTicks, fmt: ".1f" },
  { title: "scale", chains: [scaleChain1, scaleChain2], ticks: scaleTicks, fmt: "d" },
]

const FONT = "'Liberation Sans', Arial, Helvetica, sans-serif"

export default function App() {
  const svgRef = useRef<SVGSVGElement>(null)

  useEffect(() => {
    if (!svgRef.current) return
    const svg = d3.select(svgRef.current)
    svg.selectAll("*").remove()

    const width = 1152
    const height = 960
    svg.attr("width", width).attr("height", height).attr("viewBox", [0, 0, width, height])

    svg.append("rect").attr("width", width).attr("height", height).attr("fill", "white")

    // panel geometry (2 x 2 facets)
    const colLeft = [100, 582.7]
    const rowTop = [59, 511.7]
    const panelW = 422.4
    const panelH = 358

    // ggplot-style 5% expansion
    const expand = (ext: [number, number]) => {
      const pad = (ext[1] - ext[0]) * 0.05
      return [ext[0] - pad, ext[1] + pad] as [number, number]
    }

    panels.forEach((p, k) => {
      const left = colLeft[k % 2]
      const top = rowTop[Math.floor(k / 2)]
      const bottom = top + panelH
      const right = left + panelW

      const xScale = d3.scaleLinear().domain(expand([iterStart, iterEnd])).range([left, right])

      const yScale = d3
        .scaleLinear()
        .domain(expand(d3.extent(p.chains.flat()) as [number, number]))
        .range([bottom, top])

      const line = d3
        .line<number>()
        .x((_, i) => xScale(iterStart + i * iterStep))
        .y((d) => yScale(d))

      const g = svg.append("g")

      // traces: chain 1 first, chain 2 on top
      p.chains.forEach((vals, c) => {
        g.append("path")
          .datum(vals)
          .attr("d", line)
          .attr("fill", "none")
          .attr("stroke", chainColors[c])
          .attr("stroke-width", 2.1)
          .attr("stroke-linejoin", "round")
      })

      // y axis
      const yAxis = g
        .append("g")
        .attr("transform", `translate(${left + 1.3},0)`)
        .call(
          d3
            .axisLeft(yScale)
            .tickValues(p.ticks)
            .tickFormat(d3.format(p.fmt))
            .tickSize(6.3)
            .tickSizeOuter(0)
            .tickPadding(8)
        )
      yAxis.select(".domain").attr("stroke", "#222").attr("stroke-width", 2.7)
      yAxis.selectAll(".tick line").attr("stroke", "#222").attr("stroke-width", 2)
      yAxis
        .selectAll(".tick text")
        .attr("fill", "#1a1a1a")
        .attr("font-size", 22)
        .attr("font-family", FONT)

      // x axis
      const xAxis = g
        .append("g")
        .attr("transform", `translate(0,${bottom - 0.5})`)
        .call(
          d3
            .axisBottom(xScale)
            .tickValues(xTicks)
            .tickFormat(d3.format("d"))
            .tickSize(7.5)
            .tickSizeOuter(0)
            .tickPadding(7)
        )
      xAxis.select(".domain").attr("stroke", "#222").attr("stroke-width", 4.5)
      xAxis.selectAll(".tick line").attr("stroke", "#222").attr("stroke-width", 2)
      xAxis
        .selectAll(".tick text")
        .attr("fill", "#1a1a1a")
        .attr("font-size", 22)
        .attr("font-family", FONT)

      // facet title
      g.append("text")
        .attr("x", (left + right) / 2)
        .attr("y", top - 14)
        .attr("text-anchor", "middle")
        .attr("font-family", FONT)
        .attr("font-weight", "bold")
        .attr("font-size", 22)
        .attr("fill", "#1a1a1a")
        .text(p.title)
    })

    // legend
    const legend = svg.append("g")
    legend
      .append("text")
      .attr("x", 1050)
      .attr("y", 421.5)
      .attr("font-family", FONT)
      .attr("font-size", 28)
      .attr("fill", "#1a1a1a")
      .text("chain")

    chainLabels.forEach((label, i) => {
      const y = 463.3 + i * 46
      legend
        .append("line")
        .attr("x1", 1053.3)
        .attr("x2", 1090.7)
        .attr("y1", y)
        .attr("y2", y)
        .attr("stroke", chainColors[i])
        .attr("stroke-width", 2.5)
      legend
        .append("text")
        .attr("x", 1110)
        .attr("y", y + 8)
        .attr("font-family", FONT)
        .attr("font-size", 22)
        .attr("fill", "#1a1a1a")
        .text(label)
    })
  }, [])

  return <svg ref={svgRef} style={{ position: "absolute", left: 0, top: 0, display: "block" }} />
}
